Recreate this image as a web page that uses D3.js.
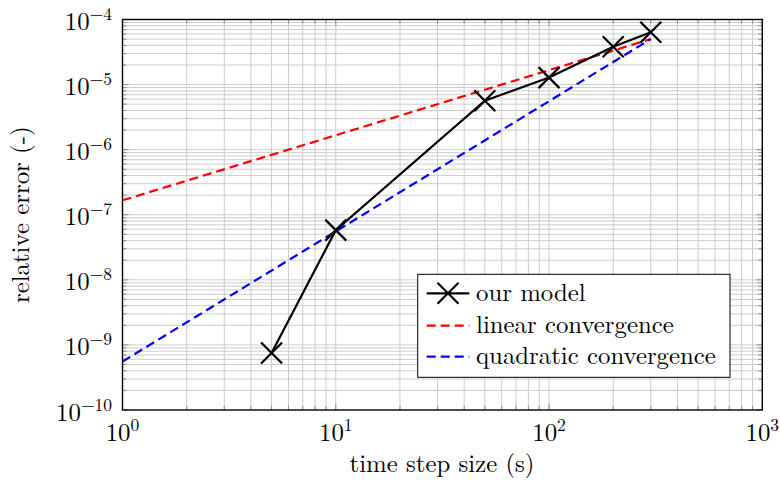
<!DOCTYPE html>
<html>
<head>
<meta charset="utf-8">
<script src="https://cdn.jsdelivr.net/npm/d3@7/dist/d3.min.js"></script>
<style>
  html, body { margin: 0; padding: 0; background: #fff; }
  svg { display: block; }
</style>
</head>
<body>
<svg id="chart" width="780" height="480"></svg>
<script>
// Time step sizes (s) and the relative error of the model
const stepSizes = [5, 10, 50, 100, 200, 300];
const modelError = [7.5e-10, 5.8e-8, 5.65e-6, 1.28e-5, 3.82e-5, 6.36e-5];

// Reference slopes, both passing through 5e-5 at 300 s
const refSteps = [1, 300];
const linearRef = [5e-5 / 300, 5e-5];
const quadraticRef = [5e-5 / 90000, 5e-5];

// Axis ticks
const xTickExp = [0, 1, 2, 3];
const yTickExp = [-10, -9, -8, -7, -6, -5, -4];

const legendLabels = ["our model", "linear convergence", "quadratic convergence"];

const FONT = '"Latin Modern Roman", "Liberation Serif", serif';
const TEXT_SIZE = 24.8;

const margin = { left: 122.5, top: 19.5, right: 780 - 762.3, bottom: 480 - 410 };
const W = 780, H = 480;
const iw = W - margin.left - margin.right;
const ih = H - margin.top - margin.bottom;

const svg = d3.select("#chart");
const g = svg.append("g").attr("transform", `translate(${margin.left},${margin.top})`);

const x = d3.scaleLog().domain([1, 1000]).range([0, iw]);
const y = d3.scaleLog().domain([1e-10, 1e-4]).range([ih, 0]);

// minor and major tick values
const xMinor = [], yMinor = [];
for (let e = 0; e < 3; e++) for (let m = 2; m <= 9; m++) xMinor.push(m * Math.pow(10, e));
for (let e = -10; e < -4; e++) for (let m = 2; m <= 9; m++) yMinor.push(m * Math.pow(10, e));
const xMajor = xTickExp.map(e => Math.pow(10, e));
const yMajor = yTickExp.map(e => Math.pow(10, e));

// grid
const grid = g.append("g");
grid.selectAll(".gx").data(xMinor.concat(xMajor.slice(1, -1))).enter().append("line")
  .attr("x1", d => x(d)).attr("x2", d => x(d)).attr("y1", 0).attr("y2", ih)
  .attr("stroke", "#cccccc").attr("stroke-width", 1);
grid.selectAll(".gy").data(yMinor.concat(yMajor.slice(1, -1))).enter().append("line")
  .attr("y1", d => y(d)).attr("y2", d => y(d)).attr("x1", 0).attr("x2", iw)
  .attr("stroke", "#cccccc").attr("stroke-width", 1);

// inward tick marks on all four sides
const ticks = g.append("g").attr("stroke", "#8c8c8c").attr("stroke-width", 1);
function tickSet(vals, len, horizontal) {
  vals.forEach(v => {
    if (horizontal) {
      const px = x(v);
      ticks.append("line").attr("x1", px).attr("x2", px).attr("y1", ih).attr("y2", ih - len);
      ticks.append("line").attr("x1", px).attr("x2", px).attr("y1", 0).attr("y2", len);
    } else {
      const py = y(v);
      ticks.append("line").attr("y1", py).attr("y2", py).attr("x1", 0).attr("x2", len);
      ticks.append("line").attr("y1", py).attr("y2", py).attr("x1", iw).attr("x2", iw - len);
    }
  });
}
tickSet(xMinor, 4, true);
tickSet(yMinor, 4, false);
tickSet(xMajor, 6, true);
tickSet(yMajor, 6, false);

// clip for lines
svg.append("defs").append("clipPath").attr("id", "plotclip")
  .append("rect").attr("x", 0).attr("y", 0).attr("width", iw).attr("height", ih);

const line = d3.line().x(d => x(d[0])).y(d => y(d[1]));
const plot = g.append("g").attr("clip-path", "url(#plotclip)");
const DASH = "9,5";
const LW = 2.2;

plot.append("path")
  .datum(refSteps.map((s, i) => [s, linearRef[i]]))
  .attr("d", line).attr("fill", "none").attr("stroke", "#ff0000")
  .attr("stroke-width", LW).attr("stroke-dasharray", DASH);

plot.append("path")
  .datum(refSteps.map((s, i) => [s, quadraticRef[i]]))
  .attr("d", line).attr("fill", "none").attr("stroke", "#0000ff")
  .attr("stroke-width", LW).attr("stroke-dasharray", DASH);

const modelPts = stepSizes.map((s, i) => [s, modelError[i]]);
g.append("path").datum(modelPts).attr("d", line)
  .attr("fill", "none").attr("stroke", "#000").attr("stroke-width", LW);

const cross = 10.5;
const marks = g.append("g").attr("stroke", "#000").attr("stroke-width", LW);
modelPts.forEach(p => {
  const px = x(p[0]), py = y(p[1]);
  marks.append("line").attr("x1", px - cross).attr("y1", py - cross).attr("x2", px + cross).attr("y2", py + cross);
  marks.append("line").attr("x1", px - cross).attr("y1", py + cross).attr("x2", px + cross).attr("y2", py - cross);
});

// frame
g.append("rect").attr("x", 0).attr("y", 0).attr("width", iw).attr("height", ih)
  .attr("fill", "none").attr("stroke", "#000").attr("stroke-width", 1.4);

// tick labels as 10^n
function powLabel(sel, e) {
  sel.style("font-family", FONT).attr("fill", "#000").attr("font-size", TEXT_SIZE);
  sel.append("tspan").text("10");
  sel.append("tspan").attr("dy", -10).attr("font-size", 17.5).text(e < 0 ? "\u2212" + (-e) : String(e));
}
xTickExp.forEach(e => {
  const t = g.append("text").attr("x", x(Math.pow(10, e))).attr("y", ih + 30.5)
    .attr("text-anchor", "middle");
  powLabel(t, e);
});
yTickExp.forEach(e => {
  const t = g.append("text").attr("x", -10.5).attr("y", y(Math.pow(10, e)) + 10.5)
    .attr("text-anchor", "end");
  powLabel(t, e);
});

// axis titles
svg.append("text").attr("x", 442).attr("y", 471.5)
  .attr("text-anchor", "middle").attr("font-size", TEXT_SIZE)
  .style("font-family", FONT).text("time step size (s)");
svg.append("text").attr("transform", `translate(28.5,${margin.top + ih / 2}) rotate(-90)`)
  .attr("text-anchor", "middle").attr("font-size", TEXT_SIZE)
  .style("font-family", FONT).text("relative error (-)");

// legend
const lg = svg.append("g").attr("transform", "translate(417.7,274.3)");
lg.append("rect").attr("x", 0).attr("y", 0).attr("width", 312.3).attr("height", 103)
  .attr("fill", "#fff").attr("stroke", "#000").attr("stroke-width", 1);
const rowY = [19, 51.4, 82.4];
const styles = [
  { color: "#000", dash: null },
  { color: "#ff0000", dash: DASH },
  { color: "#0000ff", dash: DASH }
];
legendLabels.forEach((lab, i) => {
  const ly = rowY[i];
  lg.append("line").attr("x1", 9).attr("x2", 51.6).attr("y1", ly).attr("y2", ly)
    .attr("stroke", styles[i].color).attr("stroke-width", LW)
    .attr("stroke-dasharray", styles[i].dash);
  if (i === 0) {
    lg.append("line").attr("x1", 30.3 - cross).attr("y1", ly - cross).attr("x2", 30.3 + cross).attr("y2", ly + cross)
      .attr("stroke", "#000").attr("stroke-width", LW);
    lg.append("line").attr("x1", 30.3 - cross).attr("y1", ly + cross).attr("x2", 30.3 + cross).attr("y2", ly - cross)
      .attr("stroke", "#000").attr("stroke-width", LW);
  }
  lg.append("text").attr("x", 58.3).attr("y", ly + 7.5).attr("font-size", TEXT_SIZE)
    .style("font-family", FONT).attr("fill", "#000").text(lab);
});
</script>
</body>
</html>
